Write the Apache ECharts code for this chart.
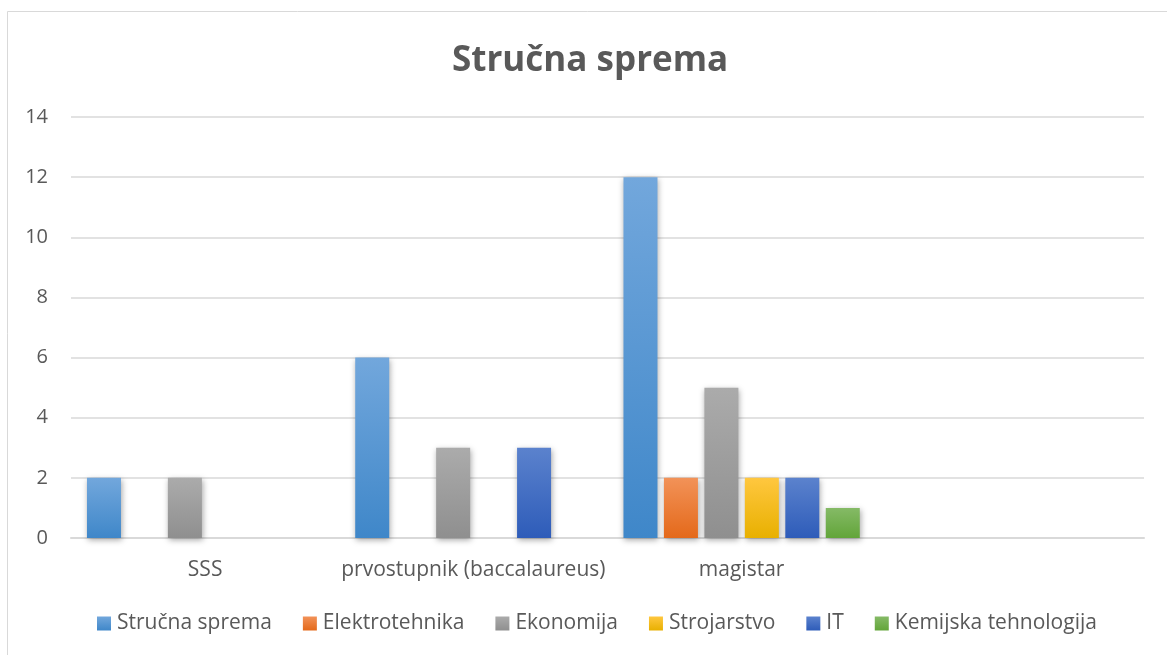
<!DOCTYPE html>
<html>
<head>
<meta charset="utf-8">
<script src="https://cdn.jsdelivr.net/npm/echarts@6/dist/echarts.min.js"></script>
<style>
  html, body { margin: 0; padding: 0; background: #fff; }
  #chart { width: 1167px; height: 655px; }
</style>
</head>
<body>
<div id="chart"></div>
<script>
// Education level counts per field
const categories = ['SSS', 'prvostupnik (baccalaureus)', 'magistar', ''];
const seriesNames = ['Stručna sprema', 'Elektrotehnika', 'Ekonomija', 'Strojarstvo', 'IT', 'Kemijska tehnologija'];
const strucnaSprema = [2, 6, 12, null];
const elektrotehnika = [null, null, 2, null];
const ekonomija = [2, 3, 5, null];
const strojarstvo = [null, null, 2, null];
const itData = [null, 3, 2, null];
const kemijska = [null, null, 1, null];
const yTicks = [0, 2, 4, 6, 8, 10, 12, 14];

const seriesValues = [strucnaSprema, elektrotehnika, ekonomija, strojarstvo, itData, kemijska];
// top / bottom colours of each bar gradient
const palette = [
  ['#72a7dc', '#3f87c9'],
  ['#f29258', '#e4691a'],
  ['#ababab', '#8f8f8f'],
  ['#ffc73f', '#e8b000'],
  ['#5b82cd', '#2e5cb9'],
  ['#85ba66', '#62a539']
];

const font = 'Open Sans, sans-serif';
const textColor = '#595959';

const chart = echarts.init(document.getElementById('chart'), null, { renderer: 'canvas' });

const grad = c => new echarts.graphic.LinearGradient(0, 0, 0, 1, [
  { offset: 0, color: c[0] }, { offset: 1, color: c[1] }
]);

chart.setOption({
  animation: false,
  backgroundColor: '#fff',
  graphic: [{
    type: 'rect',
    shape: { x: 7.5, y: 11.5, width: 1300, height: 800 },
    style: { fill: 'none', stroke: '#d9d9d9', lineWidth: 1 },
    silent: true
  }],
  title: {
    text: 'Stručna sprema',
    left: 447,
    top: 39,
    textStyle: { fontFamily: font, fontWeight: 'bold', fontSize: 35, color: textColor }
  },
  legend: {
    bottom: 16,
    left: 92,
    itemWidth: 14,
    itemHeight: 14,
    itemGap: 31,
    icon: 'rect',
    textStyle: { fontFamily: font, fontSize: 21, color: textColor, padding: [0, 0, 0, 1] },
    data: seriesNames
  },
  grid: { left: 71, right: 23, top: 117, bottom: 117, containLabel: false },
  xAxis: {
    type: 'category',
    data: categories,
    axisLine: { show: true, lineStyle: { color: '#d9d9d9', width: 2 } },
    axisTick: { show: false },
    axisLabel: { fontFamily: font, fontSize: 21, color: textColor, margin: 22, interval: 0 }
  },
  yAxis: {
    type: 'value',
    min: yTicks[0],
    max: yTicks[yTicks.length - 1],
    interval: 2,
    axisLine: { show: false },
    axisTick: { show: false },
    axisLabel: { fontFamily: font, fontSize: 20, color: textColor, margin: 23 },
    splitLine: { lineStyle: { color: '#d9d9d9', width: 1.5 } }
  },
  series: seriesNames.map((name, i) => ({
    name: name,
    type: 'bar',
    data: seriesValues[i],
    barWidth: 34,
    barGap: '19%',
    itemStyle: {
      color: grad(palette[i]),
      shadowColor: 'rgba(0,0,0,0.35)',
      shadowBlur: 6,
      shadowOffsetX: 1,
      shadowOffsetY: 2
    }
  }))
});
</script>
</body>
</html>
